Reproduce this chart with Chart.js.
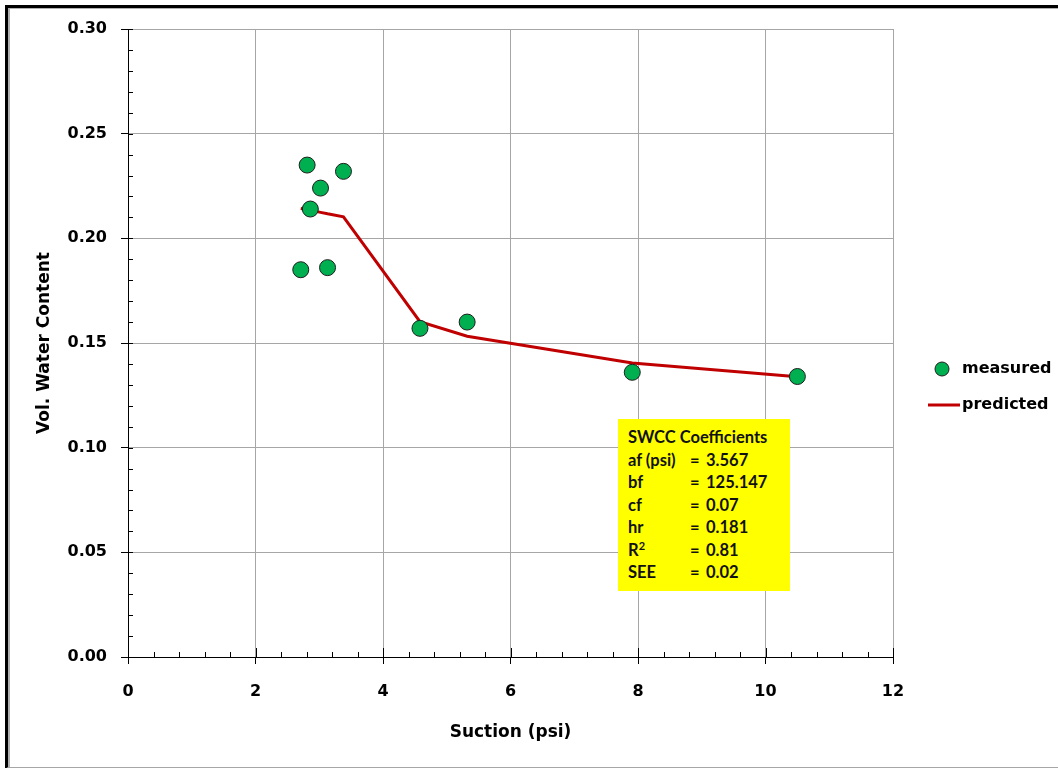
<!DOCTYPE html>
<html>
<head>
<meta charset="utf-8">
<script src="https://cdn.jsdelivr.net/npm/chart.js@4.4.0/dist/chart.umd.min.js"></script>
<style>
  html, body { margin: 0; padding: 0; background: #fff; overflow: hidden; }
  #frame { position: absolute; left: 5px; top: 5px; width: 1100px; height: 759px;
           border-top: 3px solid #000; border-left: 3px solid #000; border-bottom: 2px solid #a6a6a6; }
  #frame .inner { position: absolute; left: 0; top: 0; right: 0; bottom: 0;
           border-top: 1px solid #b0b0b0; border-left: 2px solid #b0b0b0; }
  #wrap { position: absolute; left: 0; top: 0; width: 1058px; height: 768px; }
  #coef { position: absolute; left: 618px; top: 419px; width: 162px; height: 165px;
          background: #ffff00; padding: 7px 0 0 10px; box-sizing: content-box;
          font-family: Lato, "Open Sans", sans-serif; font-weight: bold; font-size: 16.5px;
          line-height: 22.5px; color: #111; }
  #coef .row { white-space: nowrap; }
  #coef .row span { display: inline-block; }
  #coef .k { width: 62px; }
  #coef .e { width: 16px; }
  #coef sup { font-size: 11px; line-height: 0; }
</style>
</head>
<body>
<div id="frame"><div class="inner"></div></div>
<div id="wrap"><canvas id="swcc" width="1058" height="768"></canvas></div>
<div id="coef">
  <div class="row">SWCC Coefficients</div>
  <div class="row"><span class="k">af (psi)</span><span class="e">=</span><span>3.567</span></div>
  <div class="row"><span class="k">bf</span><span class="e">=</span><span>125.147</span></div>
  <div class="row"><span class="k">cf</span><span class="e">=</span><span>0.07</span></div>
  <div class="row"><span class="k">hr</span><span class="e">=</span><span>0.181</span></div>
  <div class="row"><span class="k">R<sup>2</sup></span><span class="e">=</span><span>0.81</span></div>
  <div class="row"><span class="k">SEE</span><span class="e">=</span><span>0.02</span></div>
</div>
<script>
// measured points (suction psi, vol. water content)
const measuredX = [2.81, 3.02, 3.38, 2.86, 2.71, 3.13, 4.58, 5.32, 7.91, 10.5];
const measuredY = [0.235, 0.224, 0.232, 0.214, 0.185, 0.186, 0.157, 0.160, 0.136, 0.134];

// fitted curve
const predictedX = [2.71, 2.81, 2.86, 3.02, 3.13, 3.38, 4.58, 5.32, 7.91, 10.5];
const predictedY = [0.2143, 0.2138, 0.2135, 0.2124, 0.2117, 0.2103, 0.1602, 0.1532, 0.1405, 0.1339];

const xTicks = [0, 2, 4, 6, 8, 10, 12];
const yTicks = [0, 0.05, 0.10, 0.15, 0.20, 0.25, 0.30];

const FONT = '"DejaVu Sans", Verdana, sans-serif';
const GREEN = '#00b050';
const RED = '#c00000';

// small inside ticks between the labelled ones
const minorTicks = {
  id: 'minorTicks',
  afterDraw(chart) {
    const ctx = chart.ctx;
    const xs = chart.scales.x, ys = chart.scales.y;
    ctx.save();
    ctx.strokeStyle = '#000';
    ctx.lineWidth = 1;
    ctx.beginPath();
    for (let i = 0; i <= 30; i++) {
      const px = Math.round(xs.getPixelForValue(i * 0.4)) + 0.5;
      const len = i % 5 === 0 ? 9 : 5;
      ctx.moveTo(px, ys.bottom);
      ctx.lineTo(px, ys.bottom - len);
    }
    for (let i = 0; i <= 30; i++) {
      const py = Math.round(ys.getPixelForValue(i * 0.01)) + 0.5;
      ctx.moveTo(xs.left, py);
      ctx.lineTo(xs.left + 5, py);
    }
    ctx.stroke();
    ctx.restore();
  }
};

// legend on the right, drawn from the datasets
const sideLegend = {
  id: 'sideLegend',
  afterDraw(chart) {
    const ctx = chart.ctx;
    const ds = chart.data.datasets;
    ctx.save();
    ctx.font = 'bold 16px ' + FONT;
    ctx.textBaseline = 'middle';
    // measured
    ctx.beginPath();
    ctx.arc(942, 369, 7, 0, Math.PI * 2);
    ctx.fillStyle = ds[0].backgroundColor;
    ctx.fill();
    ctx.strokeStyle = ds[0].borderColor;
    ctx.lineWidth = 1;
    ctx.stroke();
    ctx.fillStyle = '#000';
    ctx.fillText(ds[0].label, 962, 369);
    // predicted
    ctx.beginPath();
    ctx.moveTo(928, 405);
    ctx.lineTo(960, 405);
    ctx.strokeStyle = ds[1].borderColor;
    ctx.lineWidth = 3;
    ctx.stroke();
    ctx.fillText(ds[1].label, 962, 405);
    ctx.restore();
  }
};

new Chart(document.getElementById('swcc'), {
  type: 'scatter',
  data: {
    datasets: [
      {
        label: 'measured',
        data: measuredX.map((x, i) => ({ x: x, y: measuredY[i] })),
        backgroundColor: GREEN,
        borderColor: '#1e1e1e',
        borderWidth: 1,
        pointRadius: 8,
        order: 1
      },
      {
        label: 'predicted',
        data: predictedX.map((x, i) => ({ x: x, y: predictedY[i] })),
        showLine: true,
        borderColor: RED,
        backgroundColor: RED,
        borderWidth: 3,
        pointRadius: 0,
        tension: 0,
        order: 2
      }
    ]
  },
  options: {
    responsive: false,
    animation: false,
    layout: { padding: { left: 0, top: 29, right: 165, bottom: 0 } },
    plugins: {
      legend: { display: false },
      tooltip: { enabled: false }
    },
    scales: {
      x: {
        type: 'linear',
        min: 0, max: 12,
        afterBuildTicks: s => { s.ticks = xTicks.map(v => ({ value: v })); },
        afterFit: s => { s.height = 111; },
        grid: { color: '#a6a6a6', lineWidth: 1, tickColor: '#000', tickLength: 7 },
        border: { display: true, color: '#000', width: 1 },
        ticks: {
          padding: 18,
          color: '#000',
          font: { family: FONT, size: 16, weight: 'bold' },
          callback: v => String(v)
        },
        title: {
          display: true,
          text: 'Suction (psi)',
          color: '#000',
          font: { family: FONT, size: 17, weight: 'bold' },
          padding: { top: 0, bottom: 25 }
        }
      },
      y: {
        type: 'linear',
        min: 0, max: 0.3,
        afterBuildTicks: s => { s.ticks = yTicks.map(v => ({ value: v })); },
        afterFit: s => { s.width = 128; },
        grid: { color: '#a6a6a6', lineWidth: 1, tickColor: '#000', tickLength: 7 },
        border: { display: true, color: '#000', width: 1 },
        ticks: {
          padding: 14,
          color: '#000',
          font: { family: FONT, size: 16, weight: 'bold' },
          callback: v => v.toFixed(2)
        },
        title: {
          display: true,
          text: 'Vol. Water Content',
          color: '#000',
          font: { family: FONT, size: 17, weight: 'bold' },
          padding: { top: 34, bottom: 0 }
        }
      }
    }
  },
  plugins: [minorTicks, sideLegend]
});
</script>
</body>
</html>
